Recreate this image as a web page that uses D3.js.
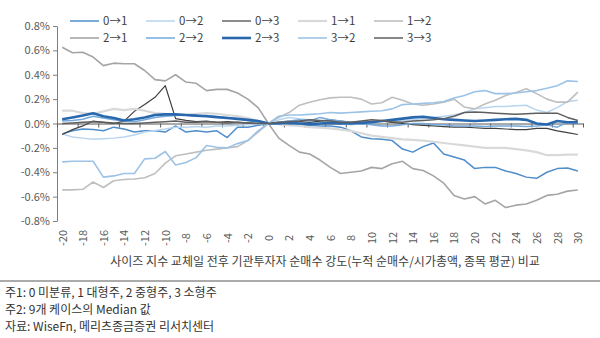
<!DOCTYPE html>
<html><head><meta charset="utf-8">
<script src="https://cdn.jsdelivr.net/npm/d3@7/dist/d3.min.js"></script>
<style>
body{margin:0;background:#fff;}
svg text{font-family:"Noto Sans CJK KR","Noto Sans",sans-serif;}
</style></head>
<body><svg id="c" width="600" height="338"></svg>
<script>
const categories = [-20,-19,-18,-17,-16,-15,-14,-13,-12,-11,-10,-9,-8,-7,-6,-5,-4,-3,-2,-1,0,1,2,3,4,5,6,7,8,9,10,11,12,13,14,15,16,17,18,19,20,21,22,23,24,25,26,27,28,29,30];
const xTickLabels = [-20,-18,-16,-14,-12,-10,-8,-6,-4,-2,0,2,4,6,8,10,12,14,16,18,20,22,24,26,28,30];
const yTicks = [-0.8,-0.6,-0.4,-0.2,0.0,0.2,0.4,0.6,0.8];
const seriesNames = ["0→1","0→2","0→3","1→1","1→2","2→1","2→2","2→3","3→2","3→3"];

const s01 = [-0.085,-0.06,-0.045,-0.05,-0.06,-0.03,-0.045,-0.07,-0.06,-0.06,-0.07,-0.02,-0.07,-0.06,-0.07,-0.06,-0.115,-0.03,-0.03,-0.015,0,
  0.0,-0.01,-0.01,-0.015,-0.02,-0.02,-0.03,-0.06,-0.11,-0.125,-0.13,-0.14,-0.21,-0.235,-0.19,-0.16,-0.25,-0.275,-0.30,-0.37,-0.36,-0.36,-0.39,-0.41,-0.44,-0.45,-0.40,-0.37,-0.365,-0.39];
const s02 = [-0.085,-0.11,-0.12,-0.13,-0.125,-0.12,-0.11,-0.095,-0.07,-0.057,-0.045,-0.03,-0.03,-0.025,-0.03,-0.02,-0.02,-0.015,-0.01,-0.005,0,
  0.03,0.05,0.04,0.03,0.02,0.01,0.0,-0.01,0.0,0.01,0.02,0.02,0.025,0.03,0.04,0.05,0.06,0.07,0.09,0.12,0.13,0.14,0.14,0.145,0.15,0.11,0.09,0.13,0.18,0.19];
const s03 = [-0.09,-0.05,-0.02,0.02,0.01,0.0,0.02,0.10,0.155,0.215,0.31,0.04,0.025,0.015,0.02,0.01,0.015,0.01,0.005,0.0,0,
  0.01,0.02,0.015,0.01,0.02,0.03,0.02,0.01,0.01,0.015,0.02,0.01,0.0,-0.01,-0.015,-0.02,-0.025,-0.03,-0.03,-0.035,-0.04,-0.04,-0.045,-0.05,-0.05,-0.04,-0.04,-0.06,-0.075,-0.09];
const s11 = [0.105,0.105,0.085,0.08,0.10,0.12,0.11,0.12,0.105,0.085,0.08,0.07,0.07,0.08,0.085,0.08,0.07,0.06,0.045,0.02,0,
  -0.005,-0.015,-0.02,-0.03,-0.035,-0.04,-0.05,-0.06,-0.08,-0.10,-0.11,-0.12,-0.13,-0.135,-0.14,-0.15,-0.16,-0.17,-0.18,-0.19,-0.20,-0.20,-0.20,-0.21,-0.22,-0.235,-0.26,-0.26,-0.255,-0.255];
const s12 = [-0.545,-0.545,-0.54,-0.48,-0.525,-0.47,-0.46,-0.455,-0.445,-0.41,-0.325,-0.265,-0.25,-0.235,-0.22,-0.21,-0.20,-0.19,-0.14,-0.07,0,
  0.05,0.09,0.15,0.175,0.195,0.21,0.215,0.215,0.20,0.16,0.17,0.215,0.19,0.16,0.15,0.16,0.175,0.20,0.135,0.12,0.16,0.19,0.23,0.255,0.285,0.245,0.20,0.175,0.175,0.257];
const s21 = [0.625,0.58,0.585,0.545,0.475,0.495,0.49,0.49,0.435,0.36,0.35,0.40,0.34,0.33,0.27,0.28,0.28,0.25,0.20,0.13,0,
  -0.12,-0.18,-0.235,-0.25,-0.30,-0.36,-0.41,-0.40,-0.39,-0.36,-0.37,-0.33,-0.31,-0.37,-0.385,-0.43,-0.49,-0.59,-0.62,-0.60,-0.66,-0.63,-0.69,-0.67,-0.66,-0.63,-0.59,-0.58,-0.555,-0.545];
const s22 = [0.02,0.025,0.035,0.06,0.045,0.03,0.02,0.015,0.03,0.05,0.06,0.065,0.07,0.06,0.065,0.055,0.05,0.04,0.025,0.01,0,
  0.01,0.02,0.03,0.02,0.05,0.03,0.02,0.01,0.0,-0.01,-0.02,-0.02,-0.01,0.0,0.0,-0.01,-0.01,-0.02,-0.02,-0.02,-0.025,-0.02,-0.02,-0.02,-0.025,-0.02,-0.01,-0.03,0.01,0.0];
const s23 = [0.035,0.05,0.065,0.085,0.06,0.045,0.025,0.035,0.05,0.07,0.075,0.075,0.07,0.065,0.06,0.052,0.045,0.038,0.03,0.02,0,
  0.0,0.005,0.0,-0.005,0.0,0.005,0.0,0.0,0.005,0.01,0.02,0.03,0.04,0.05,0.055,0.045,0.035,0.03,0.025,0.02,0.025,0.03,0.035,0.038,0.03,0.0,-0.008,0.02,0.01,0.01];
const s32 = [-0.315,-0.31,-0.31,-0.31,-0.44,-0.43,-0.41,-0.41,-0.29,-0.285,-0.23,-0.34,-0.32,-0.28,-0.18,-0.195,-0.20,-0.165,-0.14,-0.06,0,
  0.06,0.07,0.07,0.075,0.08,0.09,0.085,0.09,0.095,0.10,0.105,0.12,0.155,0.16,0.165,0.17,0.18,0.21,0.23,0.26,0.27,0.245,0.245,0.25,0.26,0.27,0.29,0.31,0.35,0.345];
const s33 = [0.0,0.005,0.01,0.015,0.01,0.005,0.0,0.0,0.005,0.01,0.015,0.02,0.01,0.01,0.015,0.01,0.005,0.01,0.005,0.0,0,
  0.01,0.015,0.02,0.03,0.025,0.02,0.01,0.01,0.02,0.03,0.025,0.015,0.01,0.02,0.025,0.03,0.04,0.06,0.09,0.095,0.09,0.085,0.08,0.075,0.08,0.085,0.085,0.085,0.05,0.025];

const seriesValues = [s01,s02,s03,s11,s12,s21,s22,s23,s32,s33];
const colors = ["#4F8DCB","#B7D5EF","#404040","#D9D9D9","#BFBFBF","#A5A5A5","#74A9DC","#2A68AE","#9CC3E6","#5E5E5E"];
const widths = [1.5,1.5,1.2,2.2,1.6,1.6,1.5,2.6,1.6,1.5];

const svg = d3.select("#c");
const x = d3.scaleLinear().domain([-20.5,30.5]).range([57,583]);
const y = d3.scaleLinear().domain([-0.8,0.8]).range([221,26]);
const axisColor = "#7f7f7f";

// y axis
const ya = svg.append("g").attr("transform","translate(57,0)")
  .call(d3.axisLeft(y).tickValues(yTicks).tickSize(4).tickSizeOuter(0).tickFormat(d=>d.toFixed(1)+"%"));
ya.select(".domain").attr("stroke",axisColor);
ya.selectAll(".tick line").attr("stroke",axisColor);
ya.selectAll(".tick text").attr("fill","#595959").attr("font-size","11px").attr("x",-7);

// x axis line at zero
const tickBounds = categories.filter((c,i)=>i%2===0).map(c=>c-0.5).concat([30.5]);
const xa = svg.append("g").attr("transform",`translate(0,${y(0)})`)
  .call(d3.axisBottom(x).tickValues(tickBounds).tickSize(4).tickSizeOuter(0).tickFormat(""));
xa.select(".domain").attr("stroke","#595959");
xa.selectAll(".tick line").attr("stroke","#595959");

// x labels at bottom
const xl = svg.append("g").attr("transform","translate(0,238)")
  .call(d3.axisBottom(x).tickValues(xTickLabels).tickSize(0).tickFormat(d=>String(d)));
xl.select(".domain").remove();
xl.selectAll(".tick text").attr("fill","#595959").attr("font-size","11px")
  .attr("transform","rotate(-90)").attr("y",0).attr("x",0).attr("dy","0.35em").attr("text-anchor","middle");

// lines
const line = d3.line().x((d,i)=>x(categories[i])).y(d=>y(d));
seriesValues.forEach((vals,k)=>{
  svg.append("path").datum(vals).attr("d",line).attr("fill","none")
    .attr("stroke",colors[k]).attr("stroke-width",widths[k]).attr("stroke-linejoin","round");
});

// legend
const lg = svg.append("g");
seriesNames.forEach((n,k)=>{
  const col = k%5, row = Math.floor(k/5);
  const lx = 70 + col*76, ly = 21 + row*17;
  lg.append("line").attr("x1",lx).attr("x2",lx+29).attr("y1",ly).attr("y2",ly)
    .attr("stroke",colors[k]).attr("stroke-width",widths[k]);
  lg.append("text").attr("x",lx+33).attr("y",ly).attr("dy","0.35em")
    .attr("font-size","11.5px").attr("fill","#404040").text(n);
});

// axis title
svg.append("text").attr("x",325).attr("y",262).attr("dy","0.35em").attr("text-anchor","middle")
  .attr("font-size","12px").attr("fill","#404040")
  .text("사이즈 지수 교체일 전후 기관투자자 순매수 강도(누적 순매수/시가총액, 종목 평균) 비교");

// footnote
svg.append("line").attr("x1",0).attr("x2",600).attr("y1",281).attr("y2",281).attr("stroke","#595959").attr("stroke-width",1.2);
const notes = ["주1: 0 미분류, 1 대형주, 2 중형주, 3 소형주","주2: 9개 케이스의 Median 값","자료: WiseFn, 메리츠종금증권 리서치센터"];
notes.forEach((t,i)=>{
  svg.append("text").attr("x",5).attr("y",293+i*17).attr("dy","0.35em")
    .attr("font-size","12px").attr("fill","#333").text(t);
});
</script></body></html>
